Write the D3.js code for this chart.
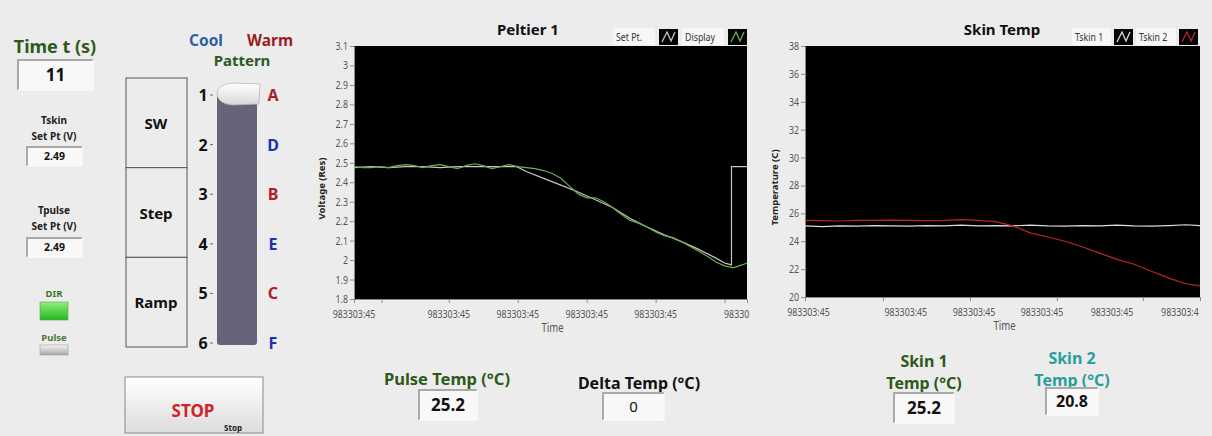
<!DOCTYPE html>
<html>
<head>
<meta charset="utf-8">
<script src="https://cdn.jsdelivr.net/npm/d3@7"></script>
<style>
  body { margin: 0; background: #ececec; }
  svg { display: block; font-family: "Noto Sans", sans-serif; }
</style>
</head>
<body>
<svg id="panel" width="1212" height="436"></svg>
<script>
/*
Front panel of the peltier rig: indicators on the left and bottom,
two waveform charts in the middle.
*/

// ---- chart data (time in seconds since start of window) ----
var peltTime = [0, 0.25, 0.5, 0.75, 1, 1.25, 1.5, 1.75, 2, 2.25, 2.5, 2.75, 3, 3.25, 3.5, 3.75,
  4, 4.25, 4.5, 4.75, 5, 5.25, 5.5, 5.75, 6, 6.25, 6.5, 6.75, 7, 7.25, 7.5, 7.75,
  8, 8.25, 8.5, 8.75, 9, 9.25, 9.5, 9.75, 10, 10.25, 10.5, 10.75, 11, 11.25, 11.4];
var displayV = [2.48, 2.475, 2.475, 2.48, 2.475, 2.485, 2.49, 2.485, 2.475, 2.485, 2.49, 2.48,
  2.47, 2.485, 2.495, 2.485, 2.47, 2.48, 2.49, 2.48, 2.475, 2.47, 2.46, 2.445,
  2.42, 2.38, 2.34, 2.32, 2.32, 2.30, 2.27, 2.235, 2.205, 2.19, 2.17, 2.145,
  2.125, 2.115, 2.095, 2.07, 2.045, 2.02, 1.99, 1.97, 1.96, 1.975, 1.985];

var setTime = [0, 0.5, 1, 1.5, 2, 2.5, 3, 3.5, 4, 4.5, 4.72, 5, 5.5, 6, 6.5, 7, 7.5,
  8, 8.5, 9, 9.5, 10, 10.5, 10.75, 10.95, 10.95, 11.4];
var setV = [2.475, 2.48, 2.475, 2.48, 2.48, 2.475, 2.48, 2.48, 2.48, 2.48, 2.48, 2.455, 2.42,
  2.385, 2.35, 2.31, 2.27, 2.215, 2.17, 2.13, 2.095, 2.055, 2.01, 1.985, 1.975, 2.48, 2.48];

var skinTime = [0, 0.5, 1, 1.5, 2, 2.5, 3, 3.5, 4, 4.5, 5, 5.5, 6, 6.5, 7, 7.5,
  8, 8.5, 9, 9.5, 10, 10.5, 11, 11.4];
var tskin1 = [25.1, 25.05, 25.1, 25.08, 25.12, 25.1, 25.08, 25.12, 25.1, 25.15, 25.1, 25.12,
  25.1, 25.15, 25.1, 25.08, 25.12, 25.1, 25.15, 25.1, 25.08, 25.12, 25.18, 25.12];
var tskin2 = [25.5, 25.48, 25.45, 25.5, 25.5, 25.52, 25.5, 25.48, 25.5, 25.55, 25.5, 25.4,
  25.1, 24.6, 24.3, 24.0, 23.6, 23.15, 22.7, 22.35, 21.85, 21.35, 20.95, 20.8];

// ---- axis ticks and labels ----
var peltYTicks = [1.8, 1.9, 2, 2.1, 2.2, 2.3, 2.4, 2.5, 2.6, 2.7, 2.8, 2.9, 3, 3.1];
var peltXTicks = [0, 0.8, 2.75, 4.75, 6.75, 8.75, 10.75, 11.4];
var peltXLabels = [[0, "983303:45"], [2.75, "983303:45"], [4.75, "983303:45"],
  [6.75, "983303:45"], [8.75, "983303:45"], [11.1, "98330"]];

var skinYTicks = [20, 22, 24, 26, 28, 30, 32, 34, 36, 38];
var skinXTicks = [0, 2.25, 4.76, 7.27, 9.75, 11.4];
var skinXLabels = [[0.1, "983303:45"], [2.91, "983303:45"], [4.88, "983303:45"],
  [6.84, "983303:45"], [8.86, "983303:45"], [10.82, "983303:4"]];

// ---- indicator values ----
var timeValue = "11";
var tskinSet = "2.49";
var tpulseSet = "2.49";
var patternNums = ["1", "2", "3", "4", "5", "6"];
var patternLetters = ["A", "D", "B", "E", "C", "F"];
var patternColors = ["#b0202a", "#1f2fb0", "#b0202a", "#1f2fb0", "#b0202a", "#1f2fb0"];
var modes = ["SW", "Step", "Ramp"];
var pulseTemp = "25.2";
var deltaTemp = "0";
var skin1Temp = "25.2";
var skin2Temp = "20.8";

var GREEN = "#2d5a1b";
var SQ = 0.8;   // the panel fonts are narrow, squash the small chart text

function main() {
  var svg = d3.select("#panel");
  svg.append("rect").attr("width", 1212).attr("height", 436).attr("fill", "#ececec");

  var defs = svg.append("defs");
  addGradient(defs, "btnGrad", "#ffffff", "#dcdcdc");
  addGradient(defs, "ledGreen", "#8ff07a", "#22b81e");
  addGradient(defs, "ledGray", "#f4f4f4", "#a8a8a8");
  addGradient(defs, "thumbGrad", "#ffffff", "#d8d8d8");

  drawLeftPanel(svg);
  drawPattern(svg);

  drawChart(svg, {
    id: "pelt", title: "Peltier 1", titleX: 528,
    left: 354, right: 747, top: 46, bottom: 299,
    xDomain: [0, 11.4], yDomain: [1.8, 3.1],
    yTicks: peltYTicks, yFormat: d => String(+d.toFixed(1)),
    xTicks: peltXTicks, xLabels: peltXLabels,
    yTitle: "Voltage (Res)", yTitleX: 325,
    series: [
      { t: setTime, v: setV, color: "#c4c4c4" },
      { t: peltTime, v: displayV, color: "#6fae4c" }
    ],
    legend: [
      { label: "Set Pt.", x: 613, w: 42, sw: 659, color: "#c4c4c4" },
      { label: "Display", x: 682, w: 42, sw: 728, color: "#6fae4c" }
    ]
  });

  drawChart(svg, {
    id: "skin", title: "Skin Temp", titleX: 1002,
    left: 805, right: 1200, top: 46, bottom: 297,
    xDomain: [0, 11.4], yDomain: [20, 38],
    yTicks: skinYTicks, yFormat: d => String(d),
    xTicks: skinXTicks, xLabels: skinXLabels,
    yTitle: "Temperature (C)", yTitleX: 778,
    series: [
      { t: skinTime, v: tskin1, color: "#dcdcdc" },
      { t: skinTime, v: tskin2, color: "#b8262c" }
    ],
    legend: [
      { label: "Tskin 1", x: 1072, w: 39, sw: 1114, color: "#dcdcdc" },
      { label: "Tskin 2", x: 1136, w: 40, sw: 1179, color: "#b8262c" }
    ]
  });

  drawBottom(svg);
}

function addGradient(defs, id, c0, c1) {
  var g = defs.append("linearGradient").attr("id", id)
    .attr("x1", 0).attr("y1", 0).attr("x2", 0).attr("y2", 1);
  g.append("stop").attr("offset", "0%").attr("stop-color", c0);
  g.append("stop").attr("offset", "100%").attr("stop-color", c1);
}

// sunken numeric indicator box
function indicator(svg, x, y, w, h, text, size, bold) {
  var g = svg.append("g");
  g.append("rect").attr("x", x).attr("y", y).attr("width", w).attr("height", h).attr("fill", "#f8f8f8");
  g.append("path").attr("d", `M${x},${y + h} L${x},${y} L${x + w},${y}`)
    .attr("fill", "none").attr("stroke", "#a9a9a9").attr("stroke-width", 2);
  g.append("path").attr("d", `M${x},${y + h} L${x + w},${y + h} L${x + w},${y}`)
    .attr("fill", "none").attr("stroke", "#fdfdfd").attr("stroke-width", 1);
  g.append("text").attr("x", x + w / 2).attr("y", y + h / 2 + size * 0.36)
    .attr("text-anchor", "middle").attr("font-size", size)
    .attr("font-weight", bold ? "bold" : "normal").attr("fill", "#111").text(text);
}

function label(svg, x, y, text, size, color, bold) {
  return svg.append("text").attr("x", x).attr("y", y).attr("text-anchor", "middle")
    .attr("font-size", size).attr("font-weight", bold === false ? "normal" : "bold")
    .attr("fill", color).text(text);
}

// narrow text, squashed horizontally around its anchor point
function narrow(sel, x, y, text, size, color, anchor) {
  return sel.append("text").attr("transform", `translate(${x},${y}) scale(${SQ},1)`)
    .attr("text-anchor", anchor || "middle").attr("font-size", size).attr("fill", color).text(text);
}

function drawLeftPanel(svg) {
  label(svg, 55, 53, "Time t (s)", 18, GREEN);
  indicator(svg, 18, 60, 75, 30, timeValue, 17, true);

  label(svg, 54, 124, "Tskin", 10, "#222");
  label(svg, 54, 140, "Set Pt (V)", 10, "#222");
  indicator(svg, 27, 147, 55, 19, tskinSet, 10.5, true);

  label(svg, 54, 214, "Tpulse", 10, "#222");
  label(svg, 54, 230, "Set Pt (V)", 10, "#222");
  indicator(svg, 27, 238, 55, 19, tpulseSet, 10.5, true);

  label(svg, 54, 297, "DIR", 9.5, "#3b7a2a");
  svg.append("rect").attr("x", 40).attr("y", 302).attr("width", 28).attr("height", 18)
    .attr("fill", "url(#ledGreen)").attr("stroke", "#6a9a5a").attr("stroke-width", 0.6);
  label(svg, 54, 341, "Pulse", 9.5, "#4a7a36");
  svg.append("rect").attr("x", 40).attr("y", 345).attr("width", 28).attr("height", 10)
    .attr("fill", "url(#ledGray)").attr("stroke", "#999").attr("stroke-width", 0.6);

  // stop button
  svg.append("rect").attr("x", 125).attr("y", 377).attr("width", 138).attr("height", 56)
    .attr("fill", "url(#btnGrad)").attr("stroke", "#8a8a8a").attr("stroke-width", 1);
  label(svg, 193, 417, "STOP", 17, "#d0232a");
  label(svg, 233, 431, "Stop", 8, "#222");
}

function drawPattern(svg) {
  label(svg, 206, 46, "Cool", 15.5, "#2e5f9e");
  label(svg, 270, 46, "Warm", 15.5, "#9b1c24");
  label(svg, 242, 66, "Pattern", 15, GREEN);

  var rowY = d3.scalePoint().domain(patternNums).range([95, 343]);

  // mode buttons
  var modeY = d3.scaleBand().domain(modes).range([78, 347]);
  var mg = svg.append("g");
  mg.selectAll("rect").data(modes).join("rect")
    .attr("x", 126).attr("y", d => modeY(d)).attr("width", 61).attr("height", modeY.bandwidth())
    .attr("fill", "#ececec").attr("stroke", "#555").attr("stroke-width", 1);
  mg.selectAll("text").data(modes).join("text")
    .attr("x", 156).attr("y", d => modeY(d) + modeY.bandwidth() / 2 + 6)
    .attr("text-anchor", "middle").attr("font-size", 15).attr("font-weight", "bold")
    .attr("fill", "#111").text(d => d);

  // slider track
  svg.append("rect").attr("x", 217).attr("y", 95).attr("width", 40).attr("height", 250)
    .attr("rx", 3).attr("fill", "#656478");

  svg.append("g").selectAll("text").data(patternNums).join("text")
    .attr("x", 203).attr("y", d => rowY(d) + 6).attr("text-anchor", "middle")
    .attr("font-size", 16).attr("font-weight", "bold").attr("fill", "#111").text(d => d);
  svg.append("g").selectAll("line").data(patternNums).join("line")
    .attr("x1", 210).attr("x2", 213).attr("y1", d => rowY(d)).attr("y2", d => rowY(d))
    .attr("stroke", "#666").attr("stroke-width", 1);
  svg.append("g").selectAll("text").data(patternLetters).join("text")
    .attr("x", 273).attr("y", (d, i) => rowY(patternNums[i]) + 6).attr("text-anchor", "middle")
    .attr("font-size", 16).attr("font-weight", "bold")
    .attr("fill", (d, i) => patternColors[i]).text(d => d);

  // slider thumb sitting on position 1
  var ty = rowY("1");
  svg.append("path")
    .attr("d", `M260,${ty - 11} L233,${ty - 12} Q216,${ty - 11} 217,${ty} Q219,${ty + 9} 233,${ty + 10} L259,${ty + 9} Z`)
    .attr("fill", "url(#thumbGrad)").attr("stroke", "#b5b5b5").attr("stroke-width", 0.8);
}

function drawChart(svg, cfg) {
  var x = d3.scaleLinear().domain(cfg.xDomain).range([cfg.left, cfg.right]);
  var y = d3.scaleLinear().domain(cfg.yDomain).range([cfg.bottom, cfg.top]);
  var g = svg.append("g").attr("class", cfg.id);

  label(g, cfg.titleX, 35, cfg.title, 15, "#111");

  // legend
  cfg.legend.forEach(function(l) {
    g.append("rect").attr("x", l.x).attr("y", 28).attr("width", l.w).attr("height", 17).attr("fill", "#f7f7f7");
    narrow(g, l.x + 3, 40.5, l.label, 11, "#333", "start");
    g.append("rect").attr("x", l.sw).attr("y", 29).attr("width", 19).attr("height", 16).attr("fill", "#050505");
    g.append("path").attr("d", `M${l.sw + 3},${42} L${l.sw + 8},${32} L${l.sw + 12},${41} L${l.sw + 16},${32}`)
      .attr("fill", "none").attr("stroke", l.color).attr("stroke-width", 1.3);
  });

  g.append("rect").attr("x", cfg.left).attr("y", cfg.top)
    .attr("width", cfg.right - cfg.left).attr("height", cfg.bottom - cfg.top).attr("fill", "#000");

  var yAxis = d3.axisLeft(y).tickValues(cfg.yTicks).tickSize(4).tickPadding(2).tickFormat(cfg.yFormat);
  var gy = g.append("g").attr("transform", `translate(${cfg.left},0)`).call(yAxis);
  var xAxis = d3.axisBottom(x).tickValues(cfg.xTicks).tickSize(4).tickFormat("");
  var gx = g.append("g").attr("transform", `translate(0,${cfg.bottom})`).call(xAxis);
  [gy, gx].forEach(function(a) {
    a.select(".domain").attr("stroke", "#8a8a8a");
    a.selectAll(".tick line").attr("stroke", "#8a8a8a");
  });
  gy.selectAll(".tick text").attr("fill", "#555").attr("font-size", 11)
    .attr("font-family", "'Noto Sans', sans-serif")
    .attr("x", -6 / SQ).attr("transform", `scale(${SQ},1)`);

  var xl = g.append("g");
  cfg.xLabels.forEach(function(d) {
    narrow(xl, x(d[0]), cfg.bottom + 18.5, d[1], 11, "#555");
  });

  narrow(g, (cfg.left + cfg.right) / 2 + 2, cfg.bottom + 33, "Time", 12, "#555");

  g.append("text").attr("transform", `translate(${cfg.yTitleX},${(cfg.top + cfg.bottom) / 2 + 16}) rotate(-90)`)
    .attr("text-anchor", "middle").attr("font-size", 9.5).attr("font-weight", "bold")
    .attr("fill", "#222").text(cfg.yTitle);

  // traces
  var clipId = cfg.id + "Clip";
  g.append("clipPath").attr("id", clipId).append("rect")
    .attr("x", cfg.left).attr("y", cfg.top).attr("width", cfg.right - cfg.left).attr("height", cfg.bottom - cfg.top);
  var line = d3.line().x(d => x(d[0])).y(d => y(d[1]));
  cfg.series.forEach(function(s) {
    g.append("path").datum(d3.zip(s.t, s.v)).attr("clip-path", `url(#${clipId})`)
      .attr("d", line).attr("fill", "none").attr("stroke", s.color).attr("stroke-width", 1.2);
  });
}

function drawBottom(svg) {
  label(svg, 447, 385, "Pulse Temp (°C)", 16.5, GREEN);
  indicator(svg, 419, 390, 58, 30, pulseTemp, 17, true);

  label(svg, 639, 389, "Delta Temp (°C)", 16, "#111");
  indicator(svg, 603, 393, 61, 27, deltaTemp, 15, false);

  label(svg, 924, 367, "Skin 1", 16, GREEN);
  label(svg, 924, 389, "Temp (°C)", 16, GREEN);
  indicator(svg, 894, 393, 60, 30, skin1Temp, 17, true);

  label(svg, 1072, 364, "Skin 2", 16, "#2a9d9d");
  label(svg, 1072, 386, "Temp (°C)", 16, "#2a9d9d");
  indicator(svg, 1046, 388, 52, 27, skin2Temp, 16, true);
}

main();
</script>
</body>
</html>
